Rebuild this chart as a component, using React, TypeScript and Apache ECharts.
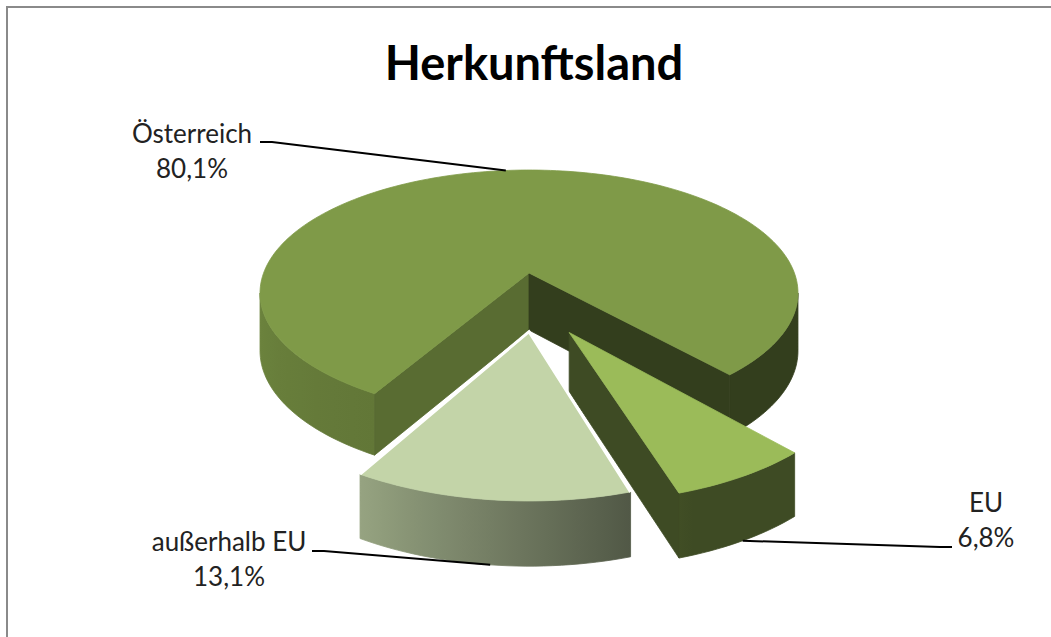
import React, { useEffect, useRef } from 'react';
import * as echarts from 'echarts';

// ---- data ----
const CATEGORIES = ['Österreich', 'EU', 'außerhalb EU'];
const VALUES = [80.1, 6.8, 13.1];
const TITLE = 'Herkunftsland';

// ---- layout / style ----
const CX = 529;
const CY = 273;
const RX = 265.4;
const RY = 119.7;
const PERSP = 0.1626;
const DEPTH = 57;
const START_ANGLE = 120; // degrees, clockwise from 3 o'clock (screen)
const EXPLODE = [
  [0, 0],
  [0.14, 0.46],
  [0, 0.454],
];
const TOP_COLORS = ['#7f9a48', '#9bbb59', '#c3d4a8'];
const LABEL_POS = [
  [192, 150.5],
  [986, 519.5],
  [229, 558],
];
const LEADER_START = [
  [260, 142],
  [952, 547],
  [312, 551],
];
const WHITE_EDGE = [false, false, true];
const FONT = "Lato, 'Open Sans', sans-serif";

function hexToRgb(h: string) {
  const n = parseInt(h.slice(1), 16);
  return [(n >> 16) & 255, (n >> 8) & 255, n & 255];
}
function shade(h: string, f: number) {
  const [r, g, b] = hexToRgb(h);
  const c = (x: number) => Math.max(0, Math.min(255, Math.round(x * f)));
  return `rgb(${c(r)},${c(g)},${c(b)})`;
}
function wallShade(deg: number) {
  let p = ((deg % 360) + 360) % 360;
  if (p <= 72) return 0.4;
  if (p <= 120) return 0.41 + ((p - 72) / 48) * 0.36;
  if (p <= 180) return 0.77 + ((p - 120) / 60) * 0.1;
  return 0.87;
}

function proj(u: number, v: number, down: boolean) {
  const w = 1 - PERSP * v;
  return [CX + (RX * u) / w, CY + (RY * v) / w + (down ? DEPTH / Math.sqrt(w) : 0)];
}
function pt(i: number, deg: number, down: boolean) {
  const r = (deg * Math.PI) / 180;
  const [ou, ov] = EXPLODE[i];
  return proj(ou + Math.cos(r), ov + Math.sin(r), down);
}
function ctr(i: number, down: boolean) {
  const [ou, ov] = EXPLODE[i];
  return proj(ou, ov, down);
}
function arc(i: number, a0: number, a1: number, down: boolean) {
  const n = Math.max(2, Math.ceil((a1 - a0) / 1.5));
  const res: number[][] = [];
  for (let k = 0; k <= n; k++) res.push(pt(i, a0 + ((a1 - a0) * k) / n, down));
  return res;
}

const TOTAL = VALUES.reduce((s, v) => s + v, 0);

function renderItem(params: any, api: any) {
  const i = params.dataIndex;
  const val = api.value(0);
  let before = 0;
  for (let k = 0; k < i; k++) before += VALUES[k];
  const a0 = START_ANGLE + (before / TOTAL) * 360;
  const a1 = a0 + (val / TOTAL) * 360;
  const top = TOP_COLORS[i];
  const children: any[] = [];

  // outer walls (visible front part)
  const sil = (Math.asin(PERSP) * 180) / Math.PI;
  for (const b of [-360, 0, 360]) {
    const lo = Math.max(a0, b + sil);
    const hi = Math.min(a1, b + 180 - sil);
    if (hi <= lo) continue;
    const tp = arc(i, lo, hi, false);
    const bt = arc(i, lo, hi, true).reverse();
    const pts = tp.concat(bt);
    const xs = pts.map((p) => p[0]);
    const xmin = Math.min(...xs);
    const xmax = Math.max(...xs);
    const stops: any[] = [];
    const ns = 10;
    for (let k = 0; k <= ns; k++) {
      const d = lo + ((hi - lo) * k) / ns;
      const x = pt(i, d, false)[0];
      stops.push({ offset: Math.max(0, Math.min(1, (x - xmin) / (xmax - xmin || 1))), color: shade(top, wallShade(d)) });
    }
    stops.sort((p, q) => p.offset - q.offset);
    const grad = { type: 'linear', x: xmin, y: 0, x2: xmax, y2: 0, global: true, colorStops: stops };
    children.push({
      type: 'polygon',
      shape: { points: pts },
      style: { fill: grad, stroke: grad, lineWidth: 0.8 },
    });
  }

  // radial faces
  const c0 = ctr(i, false);
  const c1 = ctr(i, true);
  if (Math.cos((a0 * Math.PI) / 180) < 0) {
    const col = shade(top, 0.7);
    children.push({
      type: 'polygon',
      shape: { points: [c0, pt(i, a0, false), pt(i, a0, true), c1] },
      style: { fill: col, stroke: col, lineWidth: 0.8 },
    });
  }
  if (Math.cos((a1 * Math.PI) / 180) > 0) {
    const col = shade(top, 0.4);
    children.push({
      type: 'polygon',
      shape: { points: [c0, pt(i, a1, false), pt(i, a1, true), c1] },
      style: { fill: col, stroke: col, lineWidth: 0.8 },
    });
  }

  // top face
  children.push({
    type: 'polygon',
    shape: { points: [c0].concat(arc(i, a0, a1, false)) },
    style: { fill: top, stroke: top, lineWidth: 0.8 },
  });
  if (WHITE_EDGE[i]) {
    children.push({
      type: 'polyline',
      shape: { points: [pt(i, a0, false), c0, pt(i, a1, false)] },
      style: { stroke: '#ffffff', lineWidth: 3, fill: null },
    });
  }

  // leader line + label
  const mid = (a0 + a1) / 2;
  const frontSide = Math.sin((mid * Math.PI) / 180) > 0;
  const anchor = pt(i, mid, frontSide);
  const st = LEADER_START[i];
  const elbow = [st[0] + (anchor[0] > st[0] ? 12 : -12), st[1]];
  children.push({
    type: 'polyline',
    shape: { points: [st, elbow, anchor] },
    style: { stroke: '#000000', lineWidth: 2, fill: null },
  });
  const pct = val.toFixed(1).replace('.', ',') + '%';
  children.push({
    type: 'text',
    x: LABEL_POS[i][0],
    y: LABEL_POS[i][1],
    style: {
      text: CATEGORIES[i] + '\n' + pct,
      fill: '#222222',
      fontSize: 26,
      fontFamily: FONT,
      lineHeight: 35,
      align: 'center',
      verticalAlign: 'middle',
    },
  });

  return { type: 'group', children };
}

export default function App() {
  const ref = useRef<HTMLDivElement>(null);
  useEffect(() => {
    if (!ref.current) return;
    const chart = echarts.init(ref.current, undefined, { renderer: 'svg' });
    chart.setOption({
      animation: false,
      backgroundColor: '#ffffff',
      graphic: [
        {
          type: 'line',
          shape: { x1: 6, y1: 7, x2: 1051, y2: 7 },
          style: { stroke: '#8a8a8a', lineWidth: 2 },
        },
        {
          type: 'line',
          shape: { x1: 7, y1: 6, x2: 7, y2: 637 },
          style: { stroke: '#8a8a8a', lineWidth: 2 },
        },
        {
          type: 'text',
          x: 534,
          y: 62,
          style: {
            text: TITLE,
            fill: '#000000',
            fontSize: 47,
            fontWeight: 'bold',
            fontFamily: FONT,
            align: 'center',
            verticalAlign: 'middle',
          },
        },
      ],
      series: [
        {
          type: 'custom',
          coordinateSystem: 'none',
          silent: true,
          renderItem,
          data: VALUES.map((v, k) => ({ value: [v], name: CATEGORIES[k] })),
        },
      ],
    });
    return () => chart.dispose();
  }, []);
  return (
    <div
      ref={ref}
      style={{ position: 'absolute', left: 0, top: 0, width: 1051, height: 637 }}
    />
  );
}
